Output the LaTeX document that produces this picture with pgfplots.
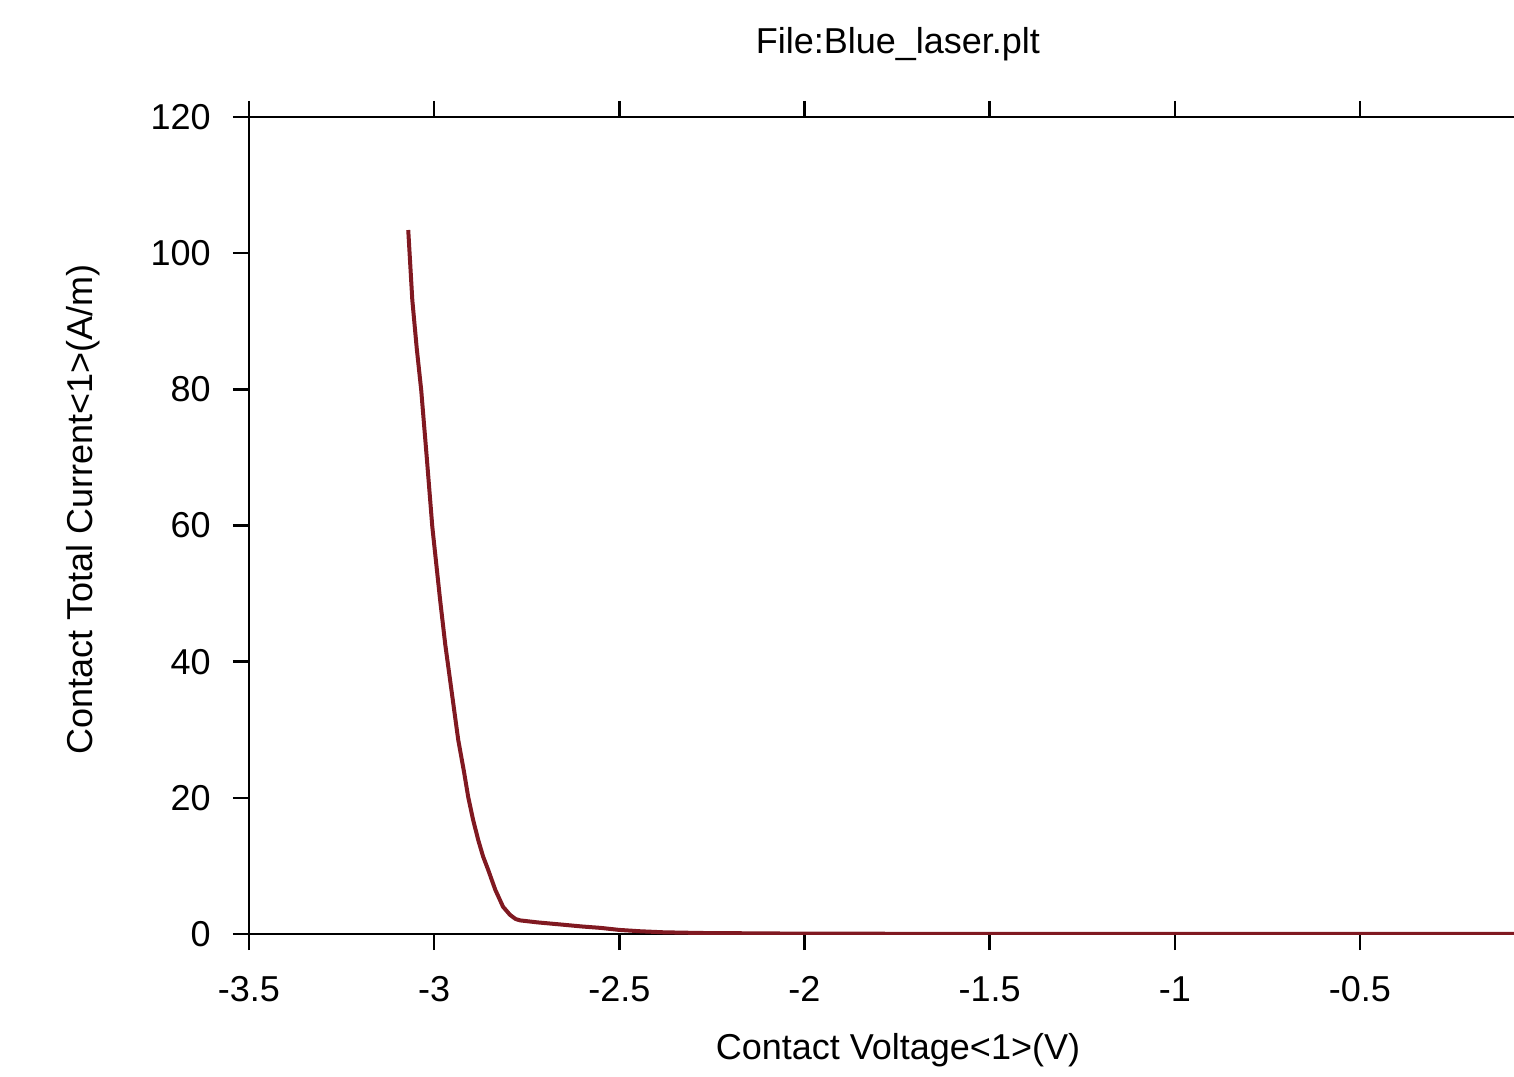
\documentclass[border=0pt]{standalone}
\usepackage{pgfplots}
\pgfplotsset{compat=1.18}
\usepackage{fontspec}
\setmainfont{Liberation Sans}
\definecolor{curve}{rgb}{0.50,0.10,0.13}
\begin{document}
\fontsize{18}{21}\selectfont
\begin{tikzpicture}
\useasboundingbox (0,0) rectangle (757pt,538pt);
\begin{axis}[
  at={(124.5pt,71pt)}, anchor=south west,
  scale only axis, width=632.5pt, height=408.5pt,
  xmin=-3.5, xmax=-0.0841, ymin=0, ymax=120,
  axis x line=box, axis y line*=left,
  axis line style={line width=1.3pt, black},
  tick style={line width=1.3pt, black},
  tick align=outside, major tick length=8pt,
  xtick={-3.5,-3,-2.5,-2,-1.5,-1,-0.5},
  xticklabels={-3.5,-3,-2.5,-2,-1.5,-1,-0.5},
  ytick={0,20,40,60,80,100,120},
  yticklabels={0,20,40,60,80,100,120},
  xtick pos=both, ytick pos=left,
  x tick label style={font=\fontsize{18}{21}\selectfont, yshift=-7pt},
  y tick label style={font=\fontsize{18}{21}\selectfont, xshift=-5pt},
  title={File:Blue\_laser.plt},
  title style={at={(axis description cs:0.513,1)}, anchor=center, yshift=30.5pt, font=\fontsize{18}{21}\selectfont},
  xlabel={Contact Voltage<1>(V)},
  xlabel style={at={(axis description cs:0.513,0)}, anchor=center, yshift=-58pt, font=\fontsize{18}{21}\selectfont},
  ylabel={Contact Total Current<1>(A/m)},
  ylabel style={at={(axis description cs:-0.1312,0.52)}, anchor=center, font=\fontsize{18}{21}\selectfont},
  clip=true,
]
\addplot[color=curve, line width=2pt, line join=round] coordinates {
(-3.070,103.4) (-3.059,93.1) (-3.047,86.0) (-3.035,79.9) (-3.020,70.0) (-3.005,59.8)
(-2.984,49.1) (-2.970,42.5) (-2.957,37.3) (-2.935,28.5) (-2.920,24.0) (-2.908,20.1)
(-2.895,16.8) (-2.881,13.8) (-2.868,11.4) (-2.854,9.4) (-2.835,6.5) (-2.814,4.0)
(-2.795,2.8) (-2.780,2.2) (-2.768,2.0) (-2.720,1.7) (-2.659,1.4) (-2.600,1.1)
(-2.551,0.9) (-2.500,0.6) (-2.443,0.4) (-2.380,0.25) (-2.281,0.15) (-2.0,0.05)
(-1.5,0.02) (-1.0,0.01) (-0.5,0.01) (-0.08,0.01)
};
\end{axis}
\end{tikzpicture}
\end{document}
